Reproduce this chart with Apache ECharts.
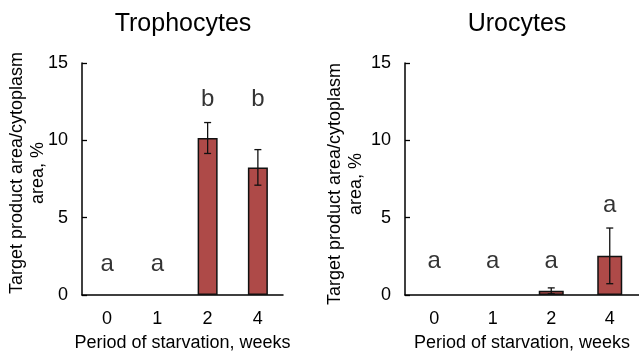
<!DOCTYPE html>
<html>
<head>
<meta charset="utf-8">
<script src="https://cdn.jsdelivr.net/npm/echarts@6/dist/echarts.min.js"></script>
<style>
html,body{margin:0;padding:0;background:#fff;}
#c{width:639px;height:357px;}
</style>
</head>
<body>
<div id="c"></div>
<script>
// ---- data ----
var categories = ['0', '1', '2', '4'];
var yTicks = [0, 5, 10, 15];
var titles = ['Trophocytes', 'Urocytes'];
var xAxisTitle = 'Period of starvation, weeks';
var yAxisTitle = 'Target product area/cytoplasm\narea, %';

var trophMean = [0, 0, 10.15, 8.25];
var trophErr = [0, 0, 1.0, 1.15];
var trophLetters = ['a', 'a', 'b', 'b'];
var trophLetterY = [2.0, 2.0, 12.65, 12.65];

var uroMean = [0, 0, 0.27, 2.53];
var uroErr = [0, 0, 0.19, 1.8];
var uroLetters = ['a', 'a', 'a', 'a'];
var uroLetterY = [2.2, 2.2, 2.2, 5.8];

// ---- chart ----
var FONT = '"Liberation Sans", Arial, sans-serif';
var BAR = '#AE4A48';
var chart = echarts.init(document.getElementById('c'), null, {renderer: 'canvas'});

function barData(mean) {
  // zero-height bars are invisible in the reference
  return mean.map(function (v) { return v === 0 ? '-' : v; });
}

function errSeries(idx, mean, err) {
  var data = mean.map(function (m, i) { return [i, m, err[i]]; });
  return {
    type: 'custom', xAxisIndex: idx, yAxisIndex: idx, z: 5,
    data: data,
    renderItem: function (params, api) {
      var e = api.value(2);
      if (!e) return null;
      var x = api.value(0), m = api.value(1);
      var hi = api.coord([x, m + e]);
      var lo = api.coord([x, m - e]);
      var w = 3.5;
      var st = {stroke: '#111', lineWidth: 1.3};
      return {type: 'group', children: [
        {type: 'line', shape: {x1: hi[0], y1: hi[1], x2: lo[0], y2: lo[1]}, style: st},
        {type: 'line', shape: {x1: hi[0] - w, y1: hi[1], x2: hi[0] + w, y2: hi[1]}, style: st},
        {type: 'line', shape: {x1: lo[0] - w, y1: lo[1], x2: lo[0] + w, y2: lo[1]}, style: st}
      ]};
    }
  };
}

function letterSeries(idx, letters, ys) {
  return {
    type: 'scatter', xAxisIndex: idx, yAxisIndex: idx, symbolSize: 0, z: 6,
    data: ys.map(function (y, i) { return {value: [i, y], name: letters[i]}; }),
    label: {show: true, position: 'inside', formatter: function (p) { return p.name; },
      fontFamily: FONT, fontSize: 24, color: '#000', textBorderWidth: 0},
    silent: true
  };
}

function xAx(idx) {
  return {
    type: 'category', gridIndex: idx, data: categories,
    axisLine: {lineStyle: {color: '#000', width: 1.5}},
    axisTick: {inside: true, length: 5, lineStyle: {color: '#000', width: 1.3}},
    axisLabel: {fontFamily: FONT, fontSize: 18, color: '#000', margin: 15},
    name: xAxisTitle, nameLocation: 'middle', nameGap: 39,
    nameTextStyle: {fontFamily: FONT, fontSize: 18, color: '#000'}
  };
}
function yAx(idx) {
  return {
    type: 'value', gridIndex: idx, min: yTicks[0], max: yTicks[yTicks.length - 1], interval: 5,
    axisLine: {show: true, lineStyle: {color: '#000', width: 1.5}},
    axisTick: {show: true, inside: true, length: 5, lineStyle: {color: '#000', width: 1.3}},
    splitLine: {show: false},
    axisLabel: {fontFamily: FONT, fontSize: 18, color: '#000', margin: 14}
  };
}

var option = {
  animation: false,
  backgroundColor: '#fff',
  title: [
    {text: titles[0], left: 183, top: 12, textAlign: 'center', padding: 0,
      textStyle: {fontFamily: FONT, fontSize: 25, fontWeight: 'normal', color: '#000'}},
    {text: titles[1], left: 517, top: 12, textAlign: 'center', padding: 0,
      textStyle: {fontFamily: FONT, fontSize: 25, fontWeight: 'normal', color: '#000'}}
  ],
  grid: [
    {left: 82, top: 63, width: 201, height: 237},
    {left: 405, top: 63, width: 238, height: 237}
  ],
  xAxis: [xAx(0), xAx(1)],
  yAxis: [yAx(0), yAx(1)],
  graphic: [
    {type: 'text', x: 27.5, y: 173, rotation: Math.PI / 2,
      style: {text: yAxisTitle, align: 'center', verticalAlign: 'middle', font: '18px ' + FONT, lineHeight: 21, fill: '#000'}},
    {type: 'text', x: 345.5, y: 184, rotation: Math.PI / 2,
      style: {text: yAxisTitle, align: 'center', verticalAlign: 'middle', font: '18px ' + FONT, lineHeight: 21, fill: '#000'}}
  ],
  series: [
    {type: 'bar', xAxisIndex: 0, yAxisIndex: 0, data: barData(trophMean), barWidth: 20,
      itemStyle: {color: BAR, borderColor: '#111', borderWidth: 1.5}},
    errSeries(0, trophMean, trophErr),
    letterSeries(0, trophLetters, trophLetterY),
    {type: 'bar', xAxisIndex: 1, yAxisIndex: 1, data: barData(uroMean), barWidth: 25,
      itemStyle: {color: BAR, borderColor: '#111', borderWidth: 1.5}},
    errSeries(1, uroMean, uroErr),
    letterSeries(1, uroLetters, uroLetterY)
  ]
};
chart.setOption(option);
</script>
</body>
</html>
